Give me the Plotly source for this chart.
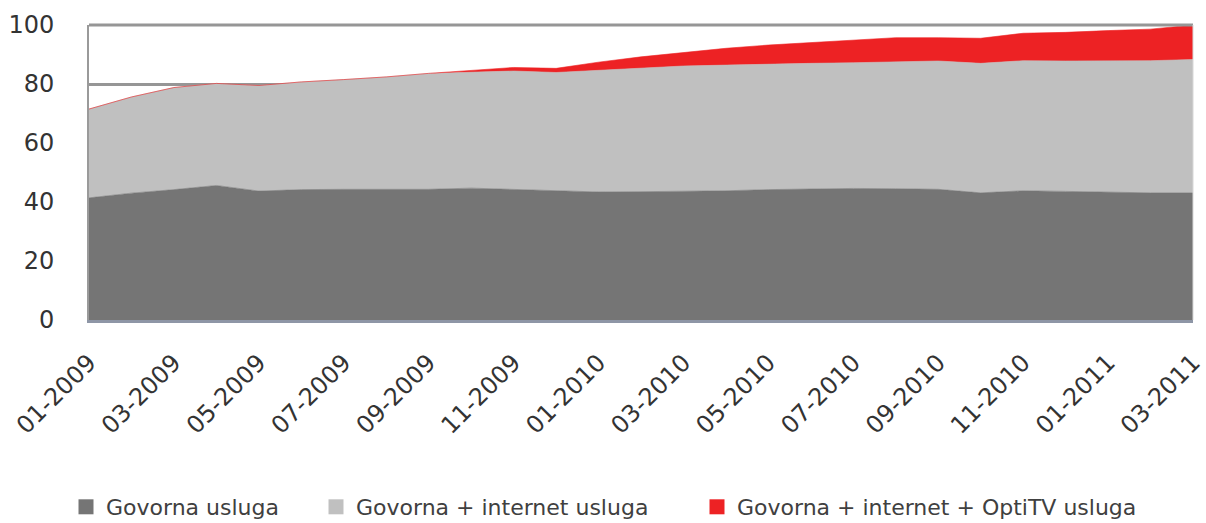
import plotly.graph_objects as go

months = ["01-2009", "02-2009", "03-2009", "04-2009", "05-2009", "06-2009", "07-2009",
          "08-2009", "09-2009", "10-2009", "11-2009", "12-2009", "01-2010", "02-2010",
          "03-2010", "04-2010", "05-2010", "06-2010", "07-2010", "08-2010", "09-2010",
          "10-2010", "11-2010", "12-2010", "01-2011", "02-2011", "03-2011"]
tick_labels = months[::2]

govorna = [41.4, 43.0, 44.2, 45.6, 43.7, 44.2, 44.3, 44.2, 44.3, 44.7, 44.3, 43.7, 43.4, 43.5,
           43.6, 43.8, 44.2, 44.4, 44.6, 44.5, 44.3, 43.1, 43.8, 43.6, 43.3, 43.1, 43.1]
internet = [30.1, 32.6, 34.6, 34.6, 35.8, 36.5, 37.2, 38.2, 39.3, 39.4, 40.1, 40.2, 41.2, 42.0,
            42.5, 42.6, 42.6, 42.6, 42.6, 42.9, 43.5, 43.9, 44.1, 44.2, 44.6, 44.8, 45.2]
optitv = [0, 0, 0, 0, 0, 0, 0, 0, 0, 0.4, 1.2, 1.4, 2.8, 3.7,
          4.6, 5.7, 6.4, 7.1, 7.7, 8.3, 7.9, 8.5, 9.3, 9.7, 10.2, 10.7, 11.7]

names = ["Govorna usluga", "Govorna + internet usluga", "Govorna + internet + OptiTV usluga"]
colors = ["#757575", "#c0c0c0", "#ed2224"]
series = [govorna, internet, optitv]
legend_ids = ["legend", "legend2", "legend3"]

font_family = "DejaVu Sans"
fig = go.Figure()
for name, col, vals in zip(names, colors, series):
    fig.add_trace(go.Scatter(
        x=months, y=vals, name=name, stackgroup="one", mode="lines",
        line=dict(width=0.6, color=col), fillcolor=col, showlegend=False,
    ))
for name, col, lid in zip(names, colors, legend_ids):
    fig.add_trace(go.Scatter(
        x=[None], y=[None], name=name, mode="markers", legend=lid,
        marker=dict(symbol="square", size=15, color=col),
    ))

W, H = 1206, 523
leg_common = dict(orientation="h", yanchor="middle", yref="container", y=1 - 507 / H,
                  xref="container", xanchor="left",
                  font=dict(family=font_family, size=22, color="#404040"),
                  itemwidth=30, bgcolor="rgba(0,0,0,0)")
legend_px = [66, 316, 697]
fig.update_layout(
    width=W, height=H,
    margin=dict(l=89, r=13, t=25, b=203, autoexpand=False),
    paper_bgcolor="white", plot_bgcolor="white",
    showlegend=True,
    legend=dict(x=legend_px[0] / W, **leg_common),
    legend2=dict(x=legend_px[1] / W, **leg_common),
    legend3=dict(x=legend_px[2] / W, **leg_common),
    xaxis=dict(type="category", categoryorder="array", categoryarray=months,
               range=[0, 26], tickmode="array", tickvals=tick_labels, ticktext=tick_labels,
               tickangle=-45, showgrid=False, ticks="", ticklabelstandoff=16,
               tickfont=dict(family=font_family, size=24, color="#333333"),
               showline=True, linecolor="#8e96a6", linewidth=3, mirror=False,
               automargin=False),
    yaxis=dict(range=[0, 100], tickvals=[0, 20, 40, 60, 80, 100], showgrid=True,
               gridcolor="#969696", gridwidth=3, zeroline=False, ticks="",
               ticklabelstandoff=28,
               tickfont=dict(family=font_family, size=24, color="#333333"),
               showline=True, linecolor="#9a9a9a", linewidth=2, automargin=False),
)
fig.add_shape(type="line", xref="paper", yref="paper", x0=0, x1=1, y0=1, y1=1,
              line=dict(color="#969696", width=3), layer="above")
fig.add_shape(type="line", xref="paper", yref="paper", x0=1, x1=1, y0=0, y1=1,
              line=dict(color="#d8d8d8", width=1), layer="above")

fig.write_html("out.html", config={"displayModeBar": False},
               post_script="document.body.style.margin='0';")
